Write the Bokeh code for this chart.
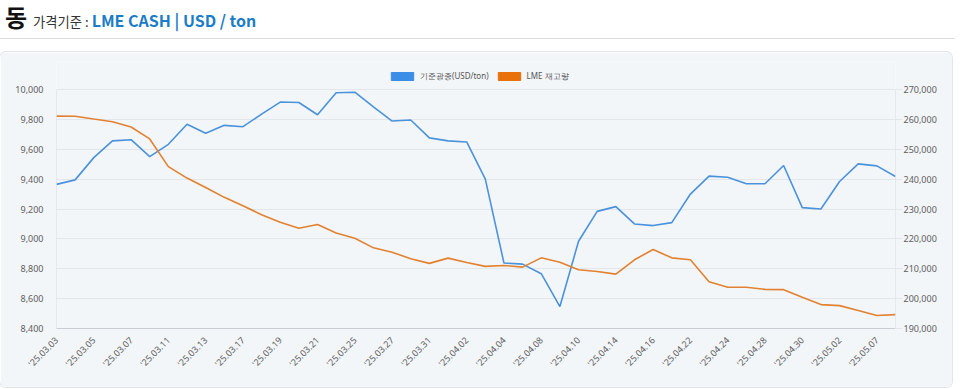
import math
from bokeh.plotting import figure
from bokeh.models import (Range1d, LinearAxis, FixedTicker, NumeralTickFormatter,
                          Legend, LegendItem, Div)
from bokeh.layouts import column
from bokeh.embed import file_html
from bokeh.resources import INLINE

dates = ["'25.03.03", "'25.03.04", "'25.03.05", "'25.03.06", "'25.03.07",
         "'25.03.10", "'25.03.11", "'25.03.12", "'25.03.13", "'25.03.14",
         "'25.03.17", "'25.03.18", "'25.03.19", "'25.03.20", "'25.03.21",
         "'25.03.24", "'25.03.25", "'25.03.26", "'25.03.27", "'25.03.28",
         "'25.03.31", "'25.04.01", "'25.04.02", "'25.04.03", "'25.04.04",
         "'25.04.07", "'25.04.08", "'25.04.09", "'25.04.10", "'25.04.11",
         "'25.04.14", "'25.04.15", "'25.04.16", "'25.04.17", "'25.04.22",
         "'25.04.23", "'25.04.24", "'25.04.25", "'25.04.28", "'25.04.29",
         "'25.04.30", "'25.05.01", "'25.05.02", "'25.05.06", "'25.05.07",
         "'25.05.08"]

price = [9365, 9395, 9544, 9656, 9664, 9551, 9633, 9767, 9707, 9760,
         9751, 9835, 9916, 9913, 9831, 9978, 9982, 9884, 9789, 9796,
         9676, 9656, 9649, 9400, 8838, 8831, 8767, 8547, 8984, 9184,
         9216, 9100, 9089, 9109, 9300, 9420, 9413, 9369, 9369, 9491,
         9209, 9200, 9384, 9502, 9489, 9418]

stock = [261100, 261050, 260100, 259200, 257450, 253450, 244200, 240350, 237200, 233900,
         231100, 228100, 225550, 223550, 224800, 222000, 220200, 217000, 215550, 213350,
         211800, 213550, 212100, 210800, 211100, 210550, 213650, 212200, 209650, 209100,
         208200, 213000, 216450, 213650, 213000, 205650, 203800, 203800, 203100, 203000,
         200450, 198000, 197650, 196000, 194350, 194650]

series_names = ["기준광종(USD/ton)", "LME 재고량"]
left_ticks = list(range(8400, 10001, 200))
right_ticks = list(range(190000, 270001, 10000))

x = list(range(len(dates)))

# layout geometry (pixels)
FIG_W, FIG_H = 952, 335
AXIS_PX = 239          # height of the 8,400..10,000 span
HEAD_PX = 28           # extra room above the axes for the legend
L_MIN, L_MAX = left_ticks[0], left_ticks[-1]
R_MIN, R_MAX = right_ticks[0], right_ticks[-1]
l_top = L_MAX + HEAD_PX * (L_MAX - L_MIN) / AXIS_PX
r_top = R_MAX + HEAD_PX * (R_MAX - R_MIN) / AXIS_PX

header = Div(
    text=(
        '<div style="position:relative;width:944px;height:42px;font-family:\'Noto Sans CJK KR\',sans-serif;">'
        '<div style="position:absolute;left:0px;top:-5px;white-space:nowrap;">'
        '<span style="font-weight:700;font-size:24px;color:#111;">동</span>'
        '<span style="font-size:13.3px;color:#333;margin-left:6px;">가격기준 : </span>'
        '<span style="font-weight:700;font-size:16px;color:#1b7cc8;">LME CASH | USD / ton</span>'
        '</div>'
        '<div style="position:absolute;left:-5px;top:33px;width:955px;border-top:1px solid #dcdcdc;"></div>'
        '</div>'
    ),
    width=944, height=42,
)

p = figure(width=FIG_W, height=FIG_H, output_backend="svg", toolbar_location=None,
           x_range=Range1d(0, len(dates) - 1), y_range=Range1d(L_MIN, l_top))
p.min_border_left = 56
p.min_border_right = 57
p.min_border_top = 9
p.min_border_bottom = FIG_H - 9 - HEAD_PX - AXIS_PX
p.background_fill_color = "#f3f6f9"
p.border_fill_color = "#f3f6f9"
p.outline_line_color = None
p.styles = {"border-radius": "6px", "box-shadow": "0 0 0 1px #e2e6eb", "overflow": "hidden"}

p.extra_y_ranges = {"stock": Range1d(R_MIN, r_top)}

# axis lines limited to the value span
p.segment(x0=[0, len(dates) - 1], y0=[L_MIN, L_MIN], x1=[0, len(dates) - 1], y1=[L_MAX, L_MAX],
          line_color="#d3d8de", line_width=1)

l1 = p.line(x, price, line_color="#4a92dc", line_width=1.6)
l2 = p.line(x, stock, line_color="#e2812f", line_width=1.6, y_range_name="stock")

sw1 = p.rect(x=[-100], y=[-100000], width=1, height=1, fill_color="#3a8ee6", line_color="#3a8ee6")
sw2 = p.rect(x=[-100], y=[-100000], width=1, height=1, fill_color="#e8710a", line_color="#e8710a")

tick_font = "Noto Sans"

ya = p.yaxis[0]
ya.ticker = FixedTicker(ticks=left_ticks)
ya.formatter = NumeralTickFormatter(format="0,0")

ra = LinearAxis(y_range_name="stock", ticker=FixedTicker(ticks=right_ticks),
                formatter=NumeralTickFormatter(format="0,0"))
p.add_layout(ra, "right")

xa = p.xaxis[0]
xa.ticker = FixedTicker(ticks=list(range(0, len(dates), 2)))
xa.major_label_overrides = {i: dates[i] for i in range(0, len(dates), 2)}
xa.major_label_orientation = math.pi / 4

for ax in [ya, ra, xa]:
    ax.major_tick_line_color = None
    ax.minor_tick_line_color = None
    ax.major_label_text_font = tick_font
    ax.major_label_text_font_size = "9px"
    ax.major_label_text_color = "#606060"
    ax.axis_line_color = None
    ax.major_label_standoff = 7
xa.axis_line_color = "#c9ced4"
xa.major_label_standoff = 4
ra.major_tick_line_color = "#e3e7ec"
ra.major_tick_in = 0
ra.major_tick_out = 7
ra.major_label_standoff = 1

p.xgrid.grid_line_color = None
p.ygrid.grid_line_color = "#e3e7ec"
p.ygrid.ticker = FixedTicker(ticks=left_ticks)

legend = Legend(items=[LegendItem(label=series_names[0], renderers=[sw1]),
                       LegendItem(label=series_names[1], renderers=[sw2])],
                location=(332, AXIS_PX + 7), orientation="horizontal")
legend.glyph_width = 28
legend.glyph_height = 10
legend.label_text_font = tick_font
legend.label_text_font_size = "8px"
legend.label_text_color = "#555555"
legend.label_standoff = 4
legend.spacing = 6
legend.padding = 0
legend.margin = 0
legend.label_height = 10
legend.background_fill_alpha = 0
legend.border_line_alpha = 0
p.add_layout(legend, "center")

layout = column(header, p, spacing=0)
open("out.html", "w").write(file_html(layout, INLINE))
